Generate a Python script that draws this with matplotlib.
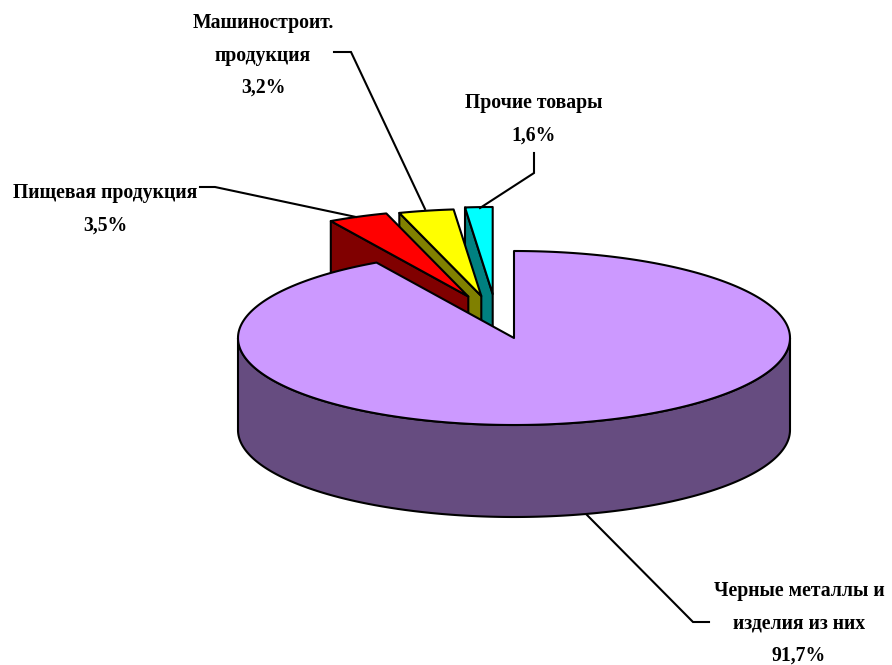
import numpy as np
import matplotlib
matplotlib.use("Agg")
import matplotlib.pyplot as plt
from matplotlib.patches import Polygon

shares = [91.7, 3.5, 3.2, 1.6]
share_labels = ["91,7%", "3,5%", "3,2%", "1,6%"]
categories = [["Черные металлы и", "изделия из них"], ["Пищевая продукция"],
              ["Машиностроит.", "продукция"], ["Прочие товары"]]
top_colors = ["#CC99FF", "#FF0000", "#FFFF00", "#00FFFF"]
side_colors = ["#664C80", "#800000", "#808000", "#008080"]
centers = [(514, 338), (468.3, 296.5), (481.3, 296), (492.7, 294)]
label_pos = [(799, 591), (105, 193), (263, 23), (534, 103)]
leaders = [[(587, 515), (693, 622), (709, 622)],
           [(200, 187), (215, 187), (356, 217)],
           [(334, 52), (351, 52), (425, 209)],
           [(534, 153), (534, 173), (480, 208)]]
RX, RY, DEPTH = 276, 87, 92
LINE_STEP = 32.5
LW = 1.5

fig = plt.figure(figsize=(8.92, 6.65), dpi=100)
ax = fig.add_axes([0, 0, 1, 1])
ax.set_xlim(0, 892)
ax.set_ylim(665, 0)
ax.axis("off")


def rim(c, a0, a1, n=200):
    t = np.radians(np.linspace(a0, a1, n))
    return np.column_stack([c[0] + RX * np.sin(t), c[1] - RY * np.cos(t)])


def poly(pts, color, z):
    ax.add_patch(Polygon(pts, closed=True, facecolor=color, edgecolor="black",
                         lw=LW, joinstyle="round", zorder=z))


edges = np.concatenate([[0], np.cumsum(shares)]) / sum(shares) * 360
down = np.array([0, DEPTH])

# exploded slices, back to front: last slice first
for i in (3, 2, 1):
    c = np.array(centers[i], float)
    a0, a1 = edges[i], edges[i + 1]
    z = 2 + (3 - i) * 2
    tip = rim(c, a0, a0, 1)[0]
    poly([tip, c, c + down, tip + down], side_colors[i], z)
    pts = np.vstack([[c], rim(c, a0, a1, 40)])
    poly(pts, top_colors[i], z + 1)

# main slice
c = np.array(centers[0], float)
front = rim(c, 90, 270)
poly(np.vstack([front, (front + down)[::-1]]), side_colors[0], 10)
poly(np.vstack([[c], rim(c, edges[0], edges[1], 400)]), top_colors[0], 11)

for path in leaders:
    xs, ys = zip(*path)
    ax.plot(xs, ys, color="black", lw=LW, zorder=12, solid_joinstyle="miter")

for (x, y), name, val in zip(label_pos, categories, share_labels):
    for k, line in enumerate(list(name) + [val]):
        ax.text(x, y + k * LINE_STEP, line, ha="center", va="center",
                family="Liberation Serif", weight="bold", fontsize=14.2,
                color="black", zorder=13)

fig.savefig("out.png", dpi=100, facecolor="white")
